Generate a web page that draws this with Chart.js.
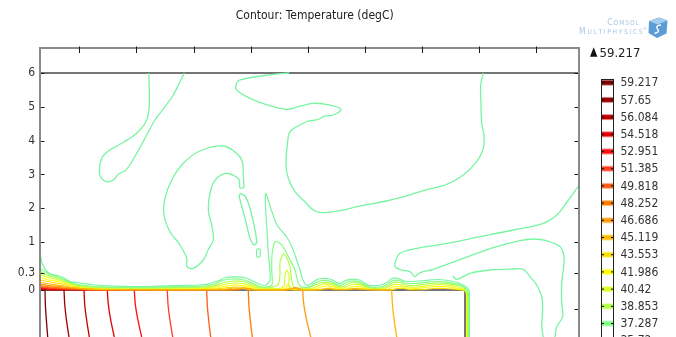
<!DOCTYPE html>
<html>
<head>
<meta charset="utf-8">
<style>
  html, body { margin: 0; padding: 0; background: #ffffff; }
  canvas { display: block; }
</style>
<script src="https://cdn.jsdelivr.net/npm/chart.js@4.4.1/dist/chart.umd.min.js"></script>
</head>
<body>
<canvas id="c" width="676" height="337"></canvas>
<script>
// ---------------- data ----------------
const titleText = 'Contour: Temperature (degC)';
const maxTemp = 59.217;
const legendLevels = [59.217, 57.65, 56.084, 54.518, 52.951, 51.385, 49.818, 48.252, 46.686, 45.119, 43.553, 41.986, 40.42, 38.853, 37.287, 35.72];
const levelColors = ['#7d0000', '#9e0000', '#c00000', '#e40000', '#ff0c0c', '#ff3d22', '#ff5d14', '#ff7b00', '#ff9b0f', '#ffb800', '#ffdc00', '#ffff00', '#d9ff2a', '#b2ff44', '#82ff82', '#78f5a0'];

const yTickValues = [0, 0.3, 1, 2, 3, 4, 5, 6];
const yTickLabels = ['0', '0.3', '1', '2', '3', '4', '5', '6'];
const yRightTickValues = [6, 5, 4, 3, 2, 1, 0.3, -0.5];
const xTickValues = [3.93, 9.64, 15.35, 21.06, 26.77, 32.48, 38.19, 43.9, 49.61];
const xRange = [0, 53.9];
// axis break points: labelled y value -> linear axis position
const axisBreakY = [-1.237, 0, 0.3, 1, 6];
const axisBreakU = [-1.3905, 0, 0.4941, 1.4201, 6.4201];
const yRangeU = [-1.3905, 7.1598];

// geometry boundaries
const domainTopEdge = [[0, 6], [53.9, 6]];
const plateTopEdge = [[0, 0], [42.5, 0]];
const plateRightEdge = [[42.5, 0], [42.5, -1.3]];

// isotherms in the air (35.72)
const isoTongue = [[10.87,6.0],[10.93,5.447],[10.9,4.964],[10.67,4.61],[10.0,4.314],[9.0,4.068],[8.0,3.891],[6.83,3.692],[6.17,3.476],[5.93,3.08],[6.17,2.885],[6.67,2.784],[7.33,2.834],[7.83,3.003],[8.6,3.13],[9.67,3.624],[10.67,4.166],[11.5,4.61],[12.5,5.003],[13.33,5.349],[14.0,5.743],[14.43,6.0]];
const isoFinger = [[24.93,6.0],[23.3,5.962],[20.0,5.793],[19.6,5.645],[19.67,5.497],[21.0,5.252],[23.33,5.003],[24.67,4.926],[25.83,5.003],[27.33,5.104],[29.0,5.053],[30.1,4.926],[29.33,4.757],[28.5,4.728],[27.67,4.61],[26.83,4.58],[26.0,4.462],[25.0,4.263],[24.73,3.87],[24.6,3.278],[24.83,2.885],[25.5,2.488],[26.5,2.192],[27.33,1.947],[28.17,1.867],[30.0,1.926],[31.67,2.044],[34.67,2.213],[36.0,2.311],[38.33,2.518],[40.67,2.707],[42.33,2.982],[43.67,3.376],[44.33,3.772],[44.4,4.166],[44.17,4.512],[44.1,5.053],[44.07,5.645],[44.33,6.0]];
const isoRightOuter = [[53.8,2.636],[52.67,2.169],[51.67,1.799],[50.33,1.553],[47.33,1.355],[44.0,1.157],[40.67,0.971],[37.33,0.843],[36.0,0.747],[35.6,0.597],[35.5,0.448],[36.17,0.374],[37.0,0.336],[37.5,0.239],[37.8,0.287],[38.33,0.336],[39.33,0.389],[42.33,0.635],[45.67,0.895],[48.0,1.038],[49.33,1.089],[50.67,1.038],[52.0,0.895],[52.4,0.671],[52.33,0.374],[52.17,0.12],[52.17,-0.35],[52.27,-0.703],[51.67,-0.966],[51.5,-1.237]];
const isoRightInner = [[41.27,0.251],[41.67,0.192],[43.0,0.3],[45.0,0.374],[47.33,0.396],[48.33,0.389],[49.0,0.239],[49.67,0.09],[50.17,-0.176],[50.27,-0.526],[50.17,-0.966],[50.33,-1.237]];
const isoHook = [[20.4,2.607],[20.33,2.982],[20.23,3.376],[19.67,3.624],[18.33,3.84],[16.0,3.692],[14.33,3.328],[13.17,2.834],[12.5,2.293],[12.4,1.799],[13.0,1.305],[14.0,0.933],[14.67,0.635],[14.7,0.448],[15.33,0.412],[16.33,0.597],[16.8,0.821],[17.33,1.059],[17.17,1.503],[16.83,1.947],[17.07,2.538],[17.67,2.885],[18.67,3.033],[19.6,2.932],[19.93,2.834],[20.0,2.607],[20.4,2.607]];
const isoSliver = [[20.0,2.441],[20.5,2.361],[20.9,2.095],[21.33,1.601],[21.67,1.009],[21.43,0.933],[21.0,1.109],[20.67,1.503],[20.33,1.896],[19.93,2.34],[20.0,2.441]];
const isoSpeck = [[21.67,0.843],[22.0,0.843],[22.0,0.671],[21.67,0.671],[21.67,0.843]];

// boundary layer over the plate
const layer3572 = [[0,0.783],[0.2,0.53],[0.67,0.34],[1.2,0.278],[1.8,0.26],[2.4,0.216],[3.0,0.153],[4.0,0.126],[5.5,0.09],[8.0,0.066],[11.0,0.063],[14.0,0.081],[16.5,0.099],[17.8,0.162],[18.6,0.225],[19.6,0.237],[20.6,0.216],[21.4,0.153],[22.0,0.099],[22.6,0.09],[23.0,0.18],[22.95,0.486],[22.83,0.754],[22.73,1.207],[22.6,1.799],[22.53,2.243],[22.57,2.45],[22.83,2.243],[23.2,1.888],[23.7,1.503],[24.67,1.148],[25.2,0.888],[25.6,0.642],[26.0,0.374],[26.3,0.18],[26.6,0.09],[27.0,0.099],[27.6,0.18],[28.2,0.207],[29.0,0.198],[29.6,0.144],[30.0,0.117],[30.5,0.171],[31.2,0.192],[31.8,0.189],[32.3,0.144],[32.8,0.09],[33.8,0.081],[34.6,0.126],[35.2,0.207],[35.8,0.21],[36.4,0.162],[37.2,0.153],[38.5,0.171],[39.7,0.189],[40.8,0.171],[41.6,0.144],[42.2,0.099],[42.65,0.045],[42.92,-0.026],[42.95,-0.263],[42.95,-1.237]];
const layer37287 = [[0,0.419],[0.5,0.329],[1.0,0.278],[1.6,0.243],[2.2,0.207],[2.8,0.153],[3.5,0.108],[4.5,0.081],[6.0,0.057],[9.0,0.049],[13.0,0.054],[16.5,0.072],[17.5,0.108],[18.2,0.171],[19.2,0.198],[20.4,0.18],[21.2,0.126],[22.0,0.063],[22.6,0.054],[23.2,0.09],[23.17,0.374],[23.2,0.709],[23.5,1.015],[24.0,0.971],[24.5,0.821],[24.83,0.671],[25.5,0.374],[25.83,0.12],[26.2,0.054],[27.0,0.057],[27.5,0.126],[28.2,0.171],[29.0,0.162],[29.7,0.099],[30.1,0.081],[30.6,0.135],[31.2,0.162],[31.9,0.153],[32.4,0.099],[33.0,0.054],[34.0,0.054],[34.7,0.099],[35.3,0.171],[35.9,0.171],[36.5,0.126],[37.3,0.117],[38.5,0.135],[39.7,0.153],[40.8,0.138],[41.6,0.111],[42.2,0.072],[42.55,0.027],[42.8,-0.053],[42.87,-0.263],[42.87,-1.237]];
const layer38853 = [[0,0.351],[0.5,0.278],[1.2,0.243],[1.8,0.207],[2.4,0.171],[3.0,0.126],[3.8,0.081],[5.0,0.057],[8.0,0.04],[13.0,0.043],[16.5,0.054],[17.5,0.081],[18.4,0.135],[19.4,0.162],[20.5,0.144],[21.2,0.099],[22.0,0.045],[23.0,0.045],[23.8,0.09],[24.0,0.269],[24.0,0.553],[24.33,0.732],[24.67,0.642],[25.0,0.448],[25.17,0.18],[25.4,0.054],[26.5,0.04],[27.4,0.081],[28.2,0.135],[29.1,0.126],[29.8,0.072],[30.2,0.054],[30.7,0.099],[31.3,0.135],[31.9,0.126],[32.5,0.072],[33.2,0.036],[34.1,0.036],[34.8,0.072],[35.3,0.135],[36.0,0.135],[36.6,0.09],[37.4,0.081],[38.6,0.108],[39.7,0.126],[40.8,0.111],[41.6,0.09],[42.2,0.054],[42.52,0.014],[42.75,-0.079],[42.8,-0.263],[42.8,-1.237]];
const layer4042 = [[0,0.287],[0.6,0.234],[1.3,0.207],[2.0,0.171],[2.6,0.135],[3.3,0.09],[4.2,0.054],[6.0,0.036],[11.0,0.029],[16.5,0.04],[17.4,0.057],[18.4,0.099],[19.4,0.126],[20.5,0.108],[21.2,0.072],[22.0,0.031],[24.0,0.031],[24.4,0.072],[24.5,0.269],[24.7,0.374],[24.9,0.251],[24.9,0.072],[25.2,0.031],[27.2,0.031],[27.7,0.063],[28.3,0.108],[29.1,0.099],[29.9,0.045],[30.4,0.036],[30.8,0.072],[31.4,0.099],[32.0,0.09],[32.6,0.045],[33.6,0.022],[34.6,0.036],[35.2,0.09],[35.9,0.099],[36.6,0.063],[37.6,0.054],[38.8,0.081],[39.8,0.099],[40.9,0.084],[41.6,0.063],[42.1,0.031],[42.48,0],[42.7,-0.105],[42.75,-0.3],[42.75,-1.237]];
const layer41986 = [[0,0.234],[0.7,0.189],[1.5,0.162],[2.2,0.135],[2.8,0.099],[3.6,0.063],[4.8,0.036],[8.0,0.022],[16.5,0.027],[17.6,0.036],[18.5,0.066],[19.4,0.09],[20.5,0.075],[21.3,0.045],[22.2,0.018],[24.2,0.018],[24.6,0.045],[24.8,0.108],[25.0,0.045],[25.2,0.018],[27.5,0.018],[28.0,0.045],[28.5,0.072],[29.2,0.063],[29.9,0.027],[30.6,0.018],[31.0,0.04],[31.5,0.063],[32.1,0.054],[32.7,0.022],[34.8,0.018],[35.3,0.054],[36.0,0.063],[36.7,0.036],[37.8,0.031],[38.8,0.054],[39.8,0.066],[40.9,0.054],[41.7,0.032],[42.3,0.009],[42.6,-0.039],[42.7,-0.132],[42.7,-1.237]];
const layer43553 = [[0,0.18],[0.8,0.153],[1.6,0.126],[2.4,0.099],[3.2,0.072],[4.0,0.045],[5.5,0.022],[11.0,0.013],[17.5,0.018],[18.5,0.036],[19.4,0.054],[20.5,0.045],[21.4,0.018],[22.2,0.007],[24.5,0.007],[24.8,0.031],[25.1,0.007],[28.0,0.007],[28.5,0.027],[29.2,0.031],[29.9,0.009],[31.0,0.009],[31.6,0.027],[32.2,0.022],[32.8,0.005],[35.2,0.005],[35.7,0.027],[36.4,0.027],[37.0,0.007],[38.5,0.009],[39.3,0.027],[40.5,0.027],[41.5,0.014],[42.2,0],[42.55,-0.026],[42.65,-0.132],[42.65,-1.237]];
const layer45119 = [[35.2,0],[34.8,0.004],[32.0,0.013],[31.3,0.025],[30.7,0.009],[29.3,0.011],[28.8,0.025],[28.2,0.007],[26.0,0.005],[25.5,0.029],[24.9,0.007],[23.0,0.004],[21.0,0.007],[20.2,0.029],[19.2,0.032],[18.4,0.011],[11.0,0.007],[6.0,0.011],[4.5,0.022],[3.5,0.04],[2.6,0.063],[1.8,0.084],[1.0,0.108],[0,0.135]];
const layer46686 = [[26.3,0],[25.9,0.023],[25.5,0.045],[25.1,0.022],[24.6,0.004],[21.5,0.004],[20.9,0.022],[20.3,0.036],[19.7,0.018],[19.0,0.004],[11.0,0.004],[6.0,0.007],[4.8,0.014],[4.0,0.027],[3.2,0.04],[2.4,0.054],[1.5,0.068],[0.8,0.084],[0,0.108]];
const layer48252 = [[20.8,0],[20.6,0.022],[20.2,0.027],[19.8,0.002],[11.0,0.002],[5.5,0.005],[4.5,0.013],[3.8,0.022],[3.0,0.027],[2.2,0.038],[1.5,0.047],[0.7,0.063],[0,0.081]];
const layer49818 = [[16.7,0],[11.0,0.002],[6.0,0.004],[4.8,0.009],[4.0,0.016],[3.0,0.02],[2.2,0.027],[1.6,0.036],[0.8,0.045],[0,0.063]];
const layer51385 = [[12.7,0],[8.0,0.002],[5.0,0.004],[4.2,0.009],[3.2,0.013],[2.4,0.018],[1.7,0.023],[0.9,0.032],[0,0.049]];
const layer52951 = [[9.4,0],[6.0,0.002],[4.4,0.005],[3.5,0.009],[2.6,0.013],[1.8,0.014],[1.0,0.018],[0,0.036]];
const layer54518 = [[6.7,0],[4.5,0.004],[3.0,0.007],[2.0,0.009],[1.0,0.013],[0,0.025]];
const layer56084 = [[4.4,0],[2.6,0.004],[1.5,0.005],[0,0.018]];
const layer5765 = [[2.4,0],[1.0,0.002],[0,0.011]];

// isotherms inside the plate
const plate59217 = [[0.5,0],[0.54,-0.4],[0.64,-0.8],[0.77,-1.237]];
const plate5765 = [[2.4,0],[2.48,-0.4],[2.65,-0.8],[2.9,-1.237]];
const plate56084 = [[4.4,0],[4.48,-0.4],[4.67,-0.8],[4.93,-1.237]];
const plate54518 = [[6.73,0],[6.84,-0.4],[7.08,-0.8],[7.43,-1.237]];
const plate52951 = [[9.43,0],[9.54,-0.4],[9.8,-0.8],[10.17,-1.237]];
const plate51385 = [[12.73,0],[12.81,-0.4],[13.0,-0.8],[13.27,-1.237]];
const plate49818 = [[16.67,0],[16.73,-0.4],[16.87,-0.8],[17.07,-1.237]];
const plate48252 = [[20.83,0],[20.89,-0.4],[21.03,-0.8],[21.23,-1.237]];
const plate46686 = [[26.27,0],[26.39,-0.4],[26.67,-0.8],[27.07,-1.237]];
const plate45119 = [[35.17,0],[35.25,-0.4],[35.42,-0.8],[35.67,-1.237]];

// ---------------- chart ----------------
const FONT = '"DejaVu Sans Condensed", "Liberation Sans", Arial, sans-serif';

function interp(v, xs, ys) {
  const n = xs.length;
  let i = 0;
  if (v <= xs[0]) i = 0;
  else if (v >= xs[n - 1]) i = n - 2;
  else { while (v > xs[i + 1]) i++; }
  const t = (v - xs[i]) / (xs[i + 1] - xs[i]);
  return ys[i] + t * (ys[i + 1] - ys[i]);
}
const warpY = v => interp(v, axisBreakY, axisBreakU);
const unwarpY = u => interp(u, axisBreakU, axisBreakY);

class BrokenLinearScale extends Chart.LinearScale {
  getPixelForValue(value) { return super.getPixelForValue(warpY(value)); }
  getValueForPixel(pixel) { return unwarpY(super.getValueForPixel(pixel)); }
}
BrokenLinearScale.id = 'brokenLinear';
BrokenLinearScale.defaults = {};
Chart.register(BrokenLinearScale);

const colorOf = lv => levelColors[legendLevels.indexOf(lv)];
const pts = arr => arr.map(([x, y]) => ({ x, y }));

const contours = [
  { level: 35.72, data: isoTongue, t: 0.35, w: 1.3 },
  { level: 35.72, data: isoFinger, t: 0.35, w: 1.3 },
  { level: 35.72, data: isoRightOuter, t: 0.35, w: 1.3 },
  { level: 35.72, data: isoRightInner, t: 0.35, w: 1.3 },
  { level: 35.72, data: isoHook, t: 0.35, w: 1.3 },
  { level: 35.72, data: isoSliver, t: 0.3, w: 1.3 },
  { level: 35.72, data: isoSpeck, t: 0.2, w: 1.2 },
  { level: 35.72, data: layer3572, t: 0.25, w: 1.2 },
  { level: 37.287, data: layer37287, t: 0.25, w: 1.2 },
  { level: 38.853, data: layer38853, t: 0.25, w: 1.2 },
  { level: 40.42, data: layer4042, t: 0.25, w: 1.2 },
  { level: 41.986, data: layer41986, t: 0.25, w: 1.2 },
  { level: 43.553, data: layer43553, t: 0.2, w: 1.2 },
  { level: 45.119, data: layer45119, t: 0.2, w: 1.2 },
  { level: 46.686, data: layer46686, t: 0.2, w: 1.2 },
  { level: 48.252, data: layer48252, t: 0.2, w: 1.2 },
  { level: 49.818, data: layer49818, t: 0.2, w: 1.2 },
  { level: 51.385, data: layer51385, t: 0.2, w: 1.2 },
  { level: 52.951, data: layer52951, t: 0.2, w: 1.2 },
  { level: 54.518, data: layer54518, t: 0.2, w: 1.2 },
  { level: 56.084, data: layer56084, t: 0.2, w: 1.2 },
  { level: 57.65, data: layer5765, t: 0.2, w: 1.2 },
  { level: 59.217, data: plate59217, t: 0.4, w: 1.3 },
  { level: 57.65, data: plate5765, t: 0.4, w: 1.3 },
  { level: 56.084, data: plate56084, t: 0.4, w: 1.3 },
  { level: 54.518, data: plate54518, t: 0.4, w: 1.3 },
  { level: 52.951, data: plate52951, t: 0.4, w: 1.3 },
  { level: 51.385, data: plate51385, t: 0.4, w: 1.3 },
  { level: 49.818, data: plate49818, t: 0.4, w: 1.3 },
  { level: 48.252, data: plate48252, t: 0.4, w: 1.3 },
  { level: 46.686, data: plate46686, t: 0.4, w: 1.3 },
  { level: 45.119, data: plate45119, t: 0.4, w: 1.3 }
];

const datasets = contours.map((c, i) => ({
  label: 'T = ' + c.level,
  data: pts(c.data),
  showLine: true,
  borderColor: colorOf(c.level),
  borderWidth: c.w,
  pointRadius: 0,
  fill: false,
  tension: c.t,
  order: c.level >= 45 ? 1 : 2,
  xAxisID: 'x', yAxisID: 'y'
}));
[domainTopEdge, plateTopEdge, plateRightEdge].forEach((e, i) => datasets.push({
  label: 'boundary ' + i,
  data: pts(e),
  showLine: true,
  borderColor: '#757575',
  borderWidth: 2,
  pointRadius: 0,
  fill: false,
  tension: 0,
  order: 100,
  xAxisID: 'x', yAxisID: 'y'
}));

function line(ctx, x1, y1, x2, y2) { ctx.beginPath(); ctx.moveTo(x1, y1); ctx.lineTo(x2, y2); ctx.stroke(); }

function spacedText(ctx, parts, rightX, baseline, spacing) {
  // parts: [[text, size], ...]; draw right-aligned with letter spacing
  let total = 0;
  const chars = [];
  parts.forEach(([txt, size]) => {
    ctx.font = size + 'px ' + FONT;
    for (const ch of txt) { const w = ctx.measureText(ch).width; chars.push([ch, size, w]); total += w + spacing; }
  });
  total -= spacing;
  let x = rightX - total;
  chars.forEach(([ch, size, w]) => { ctx.font = size + 'px ' + FONT; ctx.fillText(ch, x, baseline); x += w + spacing; });
}

const decor = {
  id: 'decor',
  afterDatasetsDraw(chart) {
    const { ctx, chartArea: a, scales: { x, y } } = chart;
    ctx.save();
    ctx.strokeStyle = '#8a8a8a';
    ctx.lineWidth = 2;
    line(ctx, a.left, a.top, a.right, a.top);
    line(ctx, a.left, a.top - 1, a.left, a.bottom + 2);
    line(ctx, a.right, a.top - 1, a.right, a.bottom + 2);
    ctx.strokeStyle = '#1a1a1a';
    ctx.lineWidth = 1;
    xTickValues.forEach(v => { const px = Math.round(x.getPixelForValue(v)) + 0.5; line(ctx, px, a.top - 1.5, px, a.top + 5); });
    yTickValues.forEach(v => { const py = Math.round(y.getPixelForValue(v)) + 0.5; line(ctx, a.left + 1, py, a.left + 4.5, py); });
    yRightTickValues.forEach(v => { const py = Math.round(y.getPixelForValue(v)) + 0.5; line(ctx, a.right - 4.5, py, a.right - 1, py); });
    ctx.restore();
  },
  afterDraw(chart) {
    const ctx = chart.ctx;
    ctx.save();
    // max marker
    ctx.fillStyle = '#111';
    ctx.beginPath(); ctx.moveTo(590, 56.7); ctx.lineTo(597.4, 56.7); ctx.lineTo(593.7, 47.3); ctx.closePath(); ctx.fill();
    ctx.fillStyle = '#222';
    ctx.font = '13px ' + FONT;
    ctx.textAlign = 'left'; ctx.textBaseline = 'alphabetic';
    ctx.fillText(String(maxTemp), 599.5, 56.7);
    // colour legend
    const lx = 601, lw = 12, first = 82.7, step = 17.2, top = 79.5;
    legendLevels.forEach((lv, i) => {
      const cy = first + i * step;
      ctx.fillStyle = levelColors[i];
      ctx.globalAlpha = 0.45;
      ctx.fillRect(lx + 0.5, cy - 3, lw, 6);
      ctx.globalAlpha = 1;
      ctx.fillRect(lx + 0.5, cy - 2, lw, 4);
      ctx.fillStyle = '#111';
      ctx.fillRect(lx + 1, cy - 0.5, 2, 1);
      ctx.fillRect(lx + lw - 2, cy - 0.5, 2, 1);
      ctx.fillStyle = '#333';
      ctx.font = '12px ' + FONT;
      ctx.textBaseline = 'middle';
      ctx.fillText(String(lv), 620.5, cy + 0.5);
    });
    ctx.strokeStyle = '#222'; ctx.lineWidth = 1;
    line(ctx, lx + 0.5, top, lx + 0.5, 340);
    line(ctx, lx + lw + 0.5, top, lx + lw + 0.5, 340);
    line(ctx, lx, top, lx + lw + 1, top);
    // logo
    ctx.textBaseline = 'alphabetic';
    ctx.fillStyle = '#a9c6e6';
    spacedText(ctx, [['C', 8.5], ['OMSOL', 6.6]], 639, 24.5, 1.0);
    spacedText(ctx, [['M', 8.5], ['ULTIPHYSICS', 6.6]], 642.5, 34, 1.7);
    ctx.font = '4px ' + FONT;
    ctx.fillText('\u00AE', 643, 29.5);
    ctx.fillStyle = '#5b9cd6';
    ctx.beginPath();
    ctx.moveTo(649, 21); ctx.lineTo(659, 17.5); ctx.lineTo(667.5, 20.5); ctx.lineTo(666.5, 33.5);
    ctx.lineTo(657, 38); ctx.lineTo(648.5, 33); ctx.closePath(); ctx.fill();
    ctx.fillStyle = '#a6cdee';
    ctx.beginPath(); ctx.moveTo(649, 21); ctx.lineTo(659, 17.5); ctx.lineTo(667.5, 20.5); ctx.lineTo(657.5, 24.5); ctx.closePath(); ctx.fill();
    ctx.strokeStyle = '#ffffff'; ctx.lineWidth = 1.4;
    ctx.beginPath(); ctx.moveTo(661, 25); ctx.quadraticCurveTo(655, 25.5, 657.5, 29); ctx.quadraticCurveTo(660.5, 32, 654.5, 33.5); ctx.stroke();
    ctx.restore();
  }
};

new Chart(document.getElementById('c'), {
  type: 'scatter',
  data: { datasets },
  options: {
    responsive: false,
    animation: false,
    devicePixelRatio: 1,
    events: [],
    layout: { padding: { left: 0, right: 46.6, top: 0, bottom: 0 } },
    plugins: {
      legend: { display: false },
      tooltip: { enabled: false },
      title: {
        display: true,
        text: titleText,
        color: '#222',
        align: 'center',
        fullSize: true,
        font: { family: FONT, size: 12, weight: 'normal' },
        padding: { top: 8.6, bottom: 25 }
      }
    },
    scales: {
      x: {
        type: 'linear', display: false, min: xRange[0], max: xRange[1], bounds: 'data',
        afterBuildTicks: s => { s.ticks = xTickValues.map(v => ({ value: v })); }
      },
      y: {
        type: 'brokenLinear', position: 'left', min: yRangeU[0], max: yRangeU[1], bounds: 'data',
        afterBuildTicks: s => { s.ticks = yTickValues.map(v => ({ value: v })); },
        afterFit: s => { s.width = 40; s.paddingTop = 0; s.paddingBottom = 0; },
        grid: { display: false, drawTicks: false },
        border: { display: false },
        ticks: {
          autoSkip: false, padding: 5, color: '#333',
          font: { family: FONT, size: 12 },
          callback: (v, i) => yTickLabels[i]
        }
      },
      y2: {
        type: 'linear', position: 'right', min: 0, max: 1,
        grid: { display: false, drawTicks: false },
        border: { display: false },
        ticks: { display: false },
        afterFit: s => { s.width = 50.4; s.paddingTop = 0; s.paddingBottom = 0; }
      }
    }
  },
  plugins: [decor]
});
</script>
</body>
</html>
